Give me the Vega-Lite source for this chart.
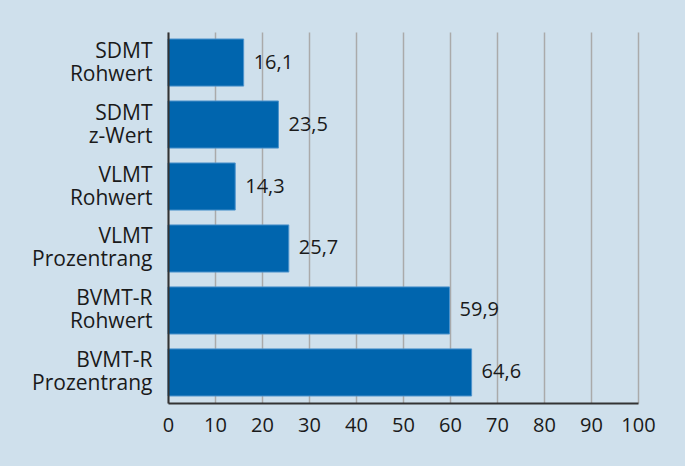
{
  "$schema": "https://vega.github.io/schema/vega-lite/v6.json",
  "width": 470,
  "height": 371,
  "autosize": "none",
  "padding": {"left": 168, "top": 32, "right": 47, "bottom": 63},
  "background": "#cfe0ec",
  "data": {
    "values": [
      {"label": "SDMT\nRohwert", "value": 16.1},
      {"label": "SDMT\nz-Wert", "value": 23.5},
      {"label": "VLMT\nRohwert", "value": 14.3},
      {"label": "VLMT\nProzentrang", "value": 25.7},
      {"label": "BVMT-R\nRohwert", "value": 59.9},
      {"label": "BVMT-R\nProzentrang", "value": 64.6}
    ]
  },
  "encoding": {
    "y": {
      "field": "label",
      "type": "nominal",
      "sort": null,
      "scale": {"paddingInner": 0.24, "paddingOuter": 0.113},
      "axis": {
        "title": null,
        "labelExpr": "split(datum.label, '\\n')",
        "labelFont": "Open Sans",
        "labelFontSize": 21,
        "labelColor": "#1a1a1a",
        "labelLineHeight": 23,
        "labelOffset": -11,
        "labelPadding": 16,
        "ticks": false,
        "domainColor": "#333333",
        "domainWidth": 2,
        "grid": false,
        "zindex": 1
      }
    },
    "x": {
      "field": "value",
      "type": "quantitative",
      "scale": {"domain": [0, 100], "nice": false},
      "axis": {
        "title": null,
        "values": [0, 10, 20, 30, 40, 50, 60, 70, 80, 90, 100],
        "labelFont": "Open Sans",
        "labelFontSize": 20,
        "labelColor": "#1a1a1a",
        "labelPadding": 12,
        "ticks": false,
        "domainColor": "#333333",
        "domainWidth": 2,
        "grid": true,
        "gridColor": "#aaaaaa",
        "gridWidth": 1.5,
        "gridOpacity": 1,
        "labelFlush": false,
        "zindex": 0
      }
    }
  },
  "layer": [
    {
      "mark": {"type": "bar", "color": "#0065ae", "stroke": "#4d93cc", "strokeWidth": 1}
    },
    {
      "mark": {"type": "text", "align": "left", "baseline": "middle", "dx": 10, "font": "Open Sans", "fontSize": 20, "color": "#1a1a1a"},
      "encoding": {
        "text": {"field": "value", "type": "quantitative", "format": ".1f"}
      }
    }
  ],
  "config": {
    "view": {"stroke": null},
    "locale": {
      "number": {"decimal": ",", "thousands": ".", "grouping": [3], "currency": ["", " €"]}
    }
  }
}
